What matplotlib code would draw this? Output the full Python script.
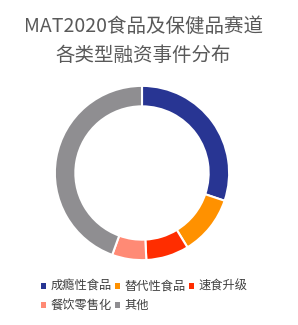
import matplotlib.pyplot as plt
from matplotlib.patches import Patch

plt.rcParams['font.family'] = ['Noto Sans CJK SC', 'DejaVu Sans']

# data
categories = ['成瘾性食品', '替代性食品', '速食升级', '餐饮零售化', '其他']
counts = [19, 7, 5, 4, 28]
colors = ['#283593', '#FF9100', '#FF2D00', '#FF8A75', '#8F8E91']
title = 'MAT2020食品及保健品赛道\n各类型融资事件分布'

W, H = 298, 325
fig = plt.figure(figsize=(W / 100, H / 100), dpi=100)

# donut
cx, cy, r = 142, 173, 88
ax = fig.add_axes([(cx - r) / W, (H - cy - r) / H, 2 * r / W, 2 * r / H])
wedges, _ = ax.pie(counts, colors=colors, startangle=90, counterclock=False,
                   radius=1, wedgeprops=dict(width=0.235, edgecolor='white', linewidth=1.5))
ax.set_xlim(-1.01, 1.01)
ax.set_ylim(-1.01, 1.01)
ax.set_aspect('equal')

fig.text(0.48, 1 - 41 / H, title, ha='center', va='center', fontsize=14,
         color='#595959', linespacing=1.5)

# legend, row-wise order
order = [0, 3, 1, 4, 2]
handles = [Patch(facecolor=colors[i], edgecolor='none') for i in order]
labels = [categories[i] for i in order]
fig.legend(handles, labels, ncol=3, loc='upper left', bbox_to_anchor=(30 / W, 1 - 269 / H),
           frameon=False, fontsize=8.8, handlelength=0.4, handleheight=0.4,
           handletextpad=0.35, columnspacing=0.3, labelspacing=0.5, labelcolor='#404040')

fig.savefig('out.png', dpi=100)
